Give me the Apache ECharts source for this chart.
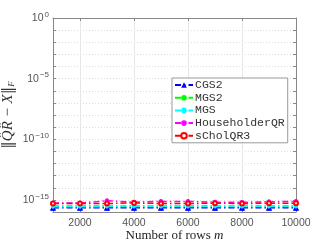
<!DOCTYPE html>
<html><head><meta charset="utf-8">
<script src="https://cdn.jsdelivr.net/npm/echarts@6/dist/echarts.min.js"></script>
<style>html,body{margin:0;padding:0;background:#fff}#c{width:327px;height:245px}</style>
</head><body><div id="c"></div>
<script>
const rows = [1000, 2000, 3000, 4000, 5000, 6000, 7000, 8000, 9000, 10000];
const xTicks = [2000, 4000, 6000, 8000, 10000];
const cgs2 = [2.2e-16, 2.2e-16, 2.2e-16, 2.2e-16, 2.2e-16, 2.2e-16, 2.2e-16, 2.2e-16, 2.2e-16, 2.2e-16];
const mgs2 = [3.1e-16, 3.1e-16, 3.2e-16, 3.2e-16, 3.2e-16, 3.2e-16, 3.2e-16, 3.2e-16, 3.2e-16, 3.2e-16];
const mgs = [2.7e-16, 2.7e-16, 2.8e-16, 2.8e-16, 2.8e-16, 2.8e-16, 2.8e-16, 2.8e-16, 2.8e-16, 2.8e-16];
const householder = [5.5e-16, 5.5e-16, 8.5e-16, 6.5e-16, 7.5e-16, 7.5e-16, 6.5e-16, 6.3e-16, 7e-16, 7.5e-16];
const scholqr3 = [5e-16, 5e-16, 5e-16, 5.6e-16, 5e-16, 5e-16, 5.3e-16, 5e-16, 5.3e-16, 5.3e-16];
const names = ['CGS2', 'MGS2', 'MGS', 'HouseholderQR', 'sCholQR3'];
const colors = ['#0000ff', '#00ff00', '#00ffff', '#ff00ff', '#ff0000'];

const chart = echarts.init(document.getElementById('c'), null, {renderer: 'canvas'});
const dashDot = [6, 3, 1.5, 3];
function mk(name, data, color, symbol, size, extra) {
  return Object.assign({
    name: name, type: 'line', data: rows.map((r, i) => [r, data[i]]),
    symbol: symbol, symbolSize: size,
    lineStyle: {color: color, width: 1.5, type: dashDot},
    itemStyle: {color: color, borderColor: color},
    emphasis: {disabled: true}, animation: false
  }, extra || {});
}
const yLabel = v => {
  const e = Math.round(Math.log10(v));
  if (e % 5 !== 0) return '';
  return '{b|10}{s|' + (e === 0 ? '0' : '\u2212' + (-e)) + '}';
};
const axisGrey = '#888';
chart.setOption({
  animation: false,
  grid: {left: 53, right: 31, top: 18, bottom: 33, outerBoundsMode: 'none', containLabel: false},
  legend: {
    data: names, orient: 'vertical', left: 172, top: 78,
    backgroundColor: '#fff', borderColor: '#999', borderWidth: 1,
    padding: [1, 3, 1, 2], itemGap: 0.7, itemWidth: 18, itemHeight: 7,
    textStyle: {fontFamily: 'Liberation Mono', fontSize: 11.5, lineHeight: 12, color: '#333', padding: [0, 0, 0, -3]}
  },
  xAxis: [{
    type: 'value', min: 1000, max: 10000,
    name: '{n|Number of rows }{m|m}', nameLocation: 'middle', nameGap: 17, nameMoveOverlap: false,
    nameTextStyle: {rich: {
      n: {fontFamily: 'Liberation Serif', fontSize: 13, color: '#222'},
      m: {fontFamily: 'Liberation Serif', fontStyle: 'italic', fontSize: 13, color: '#222'}}},
    axisLine: {lineStyle: {color: axisGrey}},
    axisTick: {inside: true, length: 3, customValues: xTicks, lineStyle: {color: axisGrey}},
    axisLabel: {customValues: xTicks, formatter: v => String(v), color: '#555', fontFamily: 'Liberation Sans', fontSize: 10.5, margin: 6},
    splitLine: {show: true, lineStyle: {color: '#e6e6e6', width: 1}}
  }, {
    type: 'value', min: 1000, max: 10000, position: 'top',
    axisLine: {show: true, lineStyle: {color: axisGrey}},
    axisTick: {show: true, inside: true, length: 3, customValues: xTicks, lineStyle: {color: axisGrey}},
    axisLabel: {show: false}, splitLine: {show: false}
  }],
  yAxis: [{
    type: 'log', logBase: 10, min: 1e-16, max: 1, interval: 1,
    name: '{d|\u2016}{a|Q\u0302R\u0302 \u2212 X}{d|\u2016}{f|F}', nameLocation: 'middle', nameGap: 37, nameRotate: 90, nameMoveOverlap: false,
    nameTextStyle: {rich: {
      d: {fontFamily: 'DejaVu Serif', fontSize: 15, color: '#333'},
      a: {fontFamily: 'Liberation Serif', fontStyle: 'italic', fontSize: 15, color: '#333'},
      f: {fontFamily: 'Liberation Serif', fontStyle: 'italic', fontSize: 9, color: '#333', verticalAlign: 'bottom', padding: [7, 0, 0, 0]}}},
    axisLine: {show: true, lineStyle: {color: axisGrey}},
    axisTick: {show: true, inside: true, length: 3, lineStyle: {color: axisGrey}},
    axisLabel: {formatter: yLabel, margin: 4, rich: {
      b: {fontFamily: 'Liberation Sans', fontSize: 10.5, color: '#555'},
      s: {fontFamily: 'Liberation Sans', fontSize: 8, color: '#555', verticalAlign: 'top', padding: [0, 0, 7, 1]}}},
    splitLine: {show: true, lineStyle: {color: '#dcdcdc', type: [1, 2], width: 1}}
  }, {
    type: 'log', logBase: 10, min: 1e-16, max: 1, interval: 1, position: 'right',
    axisLine: {show: true, lineStyle: {color: axisGrey}},
    axisTick: {show: true, inside: true, length: 3, lineStyle: {color: axisGrey}},
    axisLabel: {show: false}, splitLine: {show: false}
  }],
  series: [
    mk('CGS2', cgs2, colors[0], 'triangle', 5),
    mk('MGS2', mgs2, colors[1], 'circle', 3),
    mk('MGS', mgs, colors[2], 'circle', 3),
    mk('HouseholderQR', householder, colors[3], 'circle', 4),
    mk('sCholQR3', scholqr3, colors[4], 'emptyCircle', 4, {itemStyle: {color: '#ff0000', borderColor: '#ff0000', borderWidth: 1.8}})
  ]
});
</script></body></html>
